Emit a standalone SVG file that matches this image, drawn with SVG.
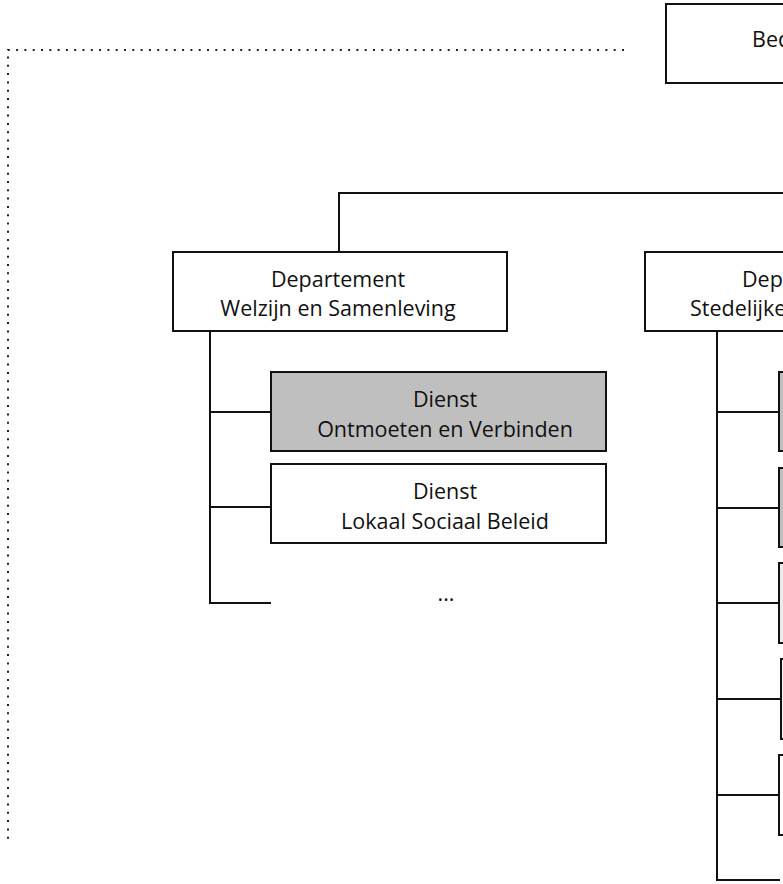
<svg xmlns="http://www.w3.org/2000/svg" width="783" height="884" viewBox="0 0 783 884">
<style>
.box{stroke:#111;stroke-width:2;fill:#fff}
.grey{fill:#bfbfbf}
.line{stroke:#111;stroke-width:2;fill:none}
.dot{stroke:#222;stroke-width:2;fill:none;stroke-dasharray:2 6.3}
text{font-family:"Open Sans","Noto Sans","Liberation Sans",sans-serif;font-size:21.5px;fill:#111}
.c{text-anchor:middle}
</style>
<rect width="783" height="884" fill="#fff"/>
<g id="connectors">
<path class="dot" d="M624,50 H8 V841"/>
<path class="line" d="M339,252 V193 H790"/>
<path class="line" d="M210,331 V603 H271 M210,412 H271 M210,507 H271"/>
<path class="line" d="M717,331 V880 H780 M717,412 H779 M717,508 H779 M717,603 H779 M717,699 H781 M717,795 H779"/>
</g>
<g id="top">
<rect class="box" x="666" y="4" width="140" height="79"/>
<text x="752" y="47">Bed</text>
</g>
<g id="dep-welzijn">
<rect class="box" x="173" y="252" width="334" height="79"/>
<text class="c" x="338" y="287">Departement</text>
<text class="c" x="338" y="316">Welzijn en Samenleving</text>
</g>
<g id="dep-stedelijk">
<rect class="box" x="645" y="252" width="160" height="79"/>
<text x="742" y="287">Dep</text>
<text x="690" y="316">Stedelijke</text>
</g>
<g id="dienst-ontmoeten">
<rect class="box grey" x="271" y="372" width="335" height="79"/>
<text class="c" x="445" y="407">Dienst</text>
<text class="c" x="445" y="437">Ontmoeten en Verbinden</text>
</g>
<g id="dienst-lokaal">
<rect class="box" x="271" y="464" width="335" height="79"/>
<text class="c" x="445" y="499">Dienst</text>
<text class="c" x="445" y="529">Lokaal Sociaal Beleid</text>
</g>
<g id="more">
<text class="c" x="446" y="601">...</text>
</g>
<g id="r1"><rect class="box grey" x="779" y="372" width="30" height="79"/></g>
<g id="r2"><rect class="box grey" x="779" y="468" width="30" height="79"/></g>
<g id="r3"><rect class="box" x="779" y="563" width="30" height="80" style="fill:#ececec"/></g>
<g id="r4"><rect class="box" x="781" y="659" width="30" height="80" style="fill:#f4f4f4"/></g>
<g id="r5"><rect class="box" x="779" y="755" width="30" height="80"/></g>
</svg>
